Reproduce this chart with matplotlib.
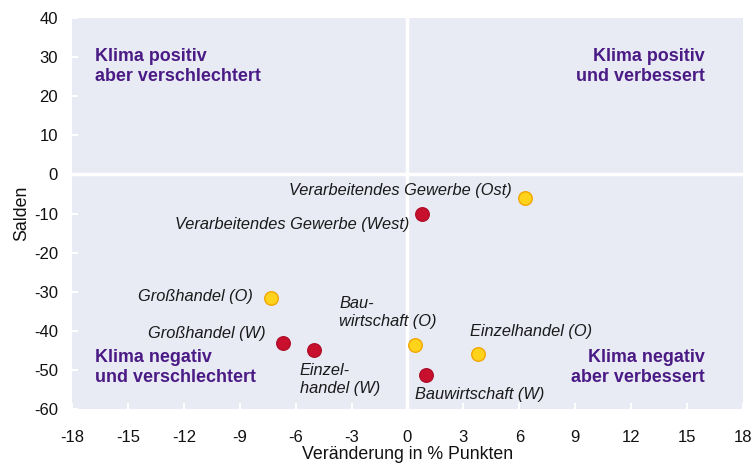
import matplotlib
matplotlib.use("Agg")
import matplotlib.pyplot as plt

plt.rcParams['font.family'] = ['Liberation Sans', 'DejaVu Sans']
plt.rcParams['axes.unicode_minus'] = False

# Data
names = ["Verarbeitendes Gewerbe (West)", "Verarbeitendes Gewerbe (Ost)",
         "Großhandel (O)", "Großhandel (W)", "Einzelhandel (W)",
         "Bauwirtschaft (O)", "Bauwirtschaft (W)", "Einzelhandel (O)"]
x_change = [0.8, 6.3, -7.3, -6.7, -5.0, 0.4, 1.0, 3.8]
y_saldo = [-10.0, -6.0, -31.6, -43.1, -44.9, -43.6, -51.3, -45.9]
region = ["W", "O", "O", "W", "W", "O", "W", "O"]

labels = ["Verarbeitendes Gewerbe (West)", "Verarbeitendes Gewerbe (Ost)",
          "Großhandel (O)", "Großhandel (W)", "Einzel-\nhandel (W)",
          "Bau-\nwirtschaft (O)", "Bauwirtschaft (W)", "Einzelhandel (O)"]
label_pos = [(0.08, -12.7, "right"), (5.6, -4.0, "right"),
             (-8.3, -31.1, "right"), (-7.6, -40.6, "right"),
             (-5.77, -52.5, "left"), (-3.67, -35.3, "left"),
             (0.4, -56.2, "left"), (3.35, -40.3, "left")]

x_ticks = [-18, -15, -12, -9, -6, -3, 0, 3, 6, 9, 12, 15, 18]
y_ticks = [-60, -50, -40, -30, -20, -10, 0, 10, 20, 30, 40]

quadrants = [("Klima positiv\naber verschlechtert", -16.77, 27.7, "left"),
             ("Klima positiv\nund verbessert", 15.96, 27.7, "right"),
             ("Klima negativ\nund verschlechtert", -16.77, -49.3, "left"),
             ("Klima negativ\naber verbessert", 15.96, -49.3, "right")]

fig = plt.figure(figsize=(7.53, 4.63), dpi=100)
ax = fig.add_axes([0.0956, 0.1166, 0.8911, 0.8444])
ax.set_facecolor("#e8eaf4")
for s in ax.spines.values():
    s.set_visible(False)

ax.axvline(0, color="white", lw=2.5, zorder=1)
ax.axhline(0, color="white", lw=2.5, zorder=1)

face = {"W": "#c8102e", "O": "#ffd31a"}
edge = {"W": "#b00d28", "O": "#f2a600"}
for xv, yv, r in zip(x_change, y_saldo, region):
    ax.scatter(xv, yv, s=95, color=face[r], edgecolor=edge[r], linewidth=1, zorder=3)

for lab, (lx, ly, ha) in zip(labels, label_pos):
    ax.text(lx, ly, lab, ha=ha, va="center", fontsize=11.8, style="italic",
            color="#1a1a1a", linespacing=1.2)

for txt, qx, qy, ha in quadrants:
    ax.text(qx, qy, txt, ha=ha, va="center", fontsize=12.9, fontweight="bold",
            color="#4a1a85", linespacing=1.25, multialignment=ha)

ax.set_xlim(-18, 18)
ax.set_ylim(-60, 40)
ax.set_xticks(x_ticks)
ax.set_yticks(y_ticks)
ax.tick_params(direction="in", length=4, width=1.5, color="white",
               labelsize=12, labelcolor="#111111")
ax.tick_params(axis="y", pad=10)
ax.tick_params(axis="x", pad=15)

ax.set_xlabel("Veränderung in % Punkten", fontsize=12.8, labelpad=1, color="#111111")
ax.set_ylabel("Salden", fontsize=12.8, labelpad=3, color="#111111")

fig.savefig("out.png", dpi=100)
